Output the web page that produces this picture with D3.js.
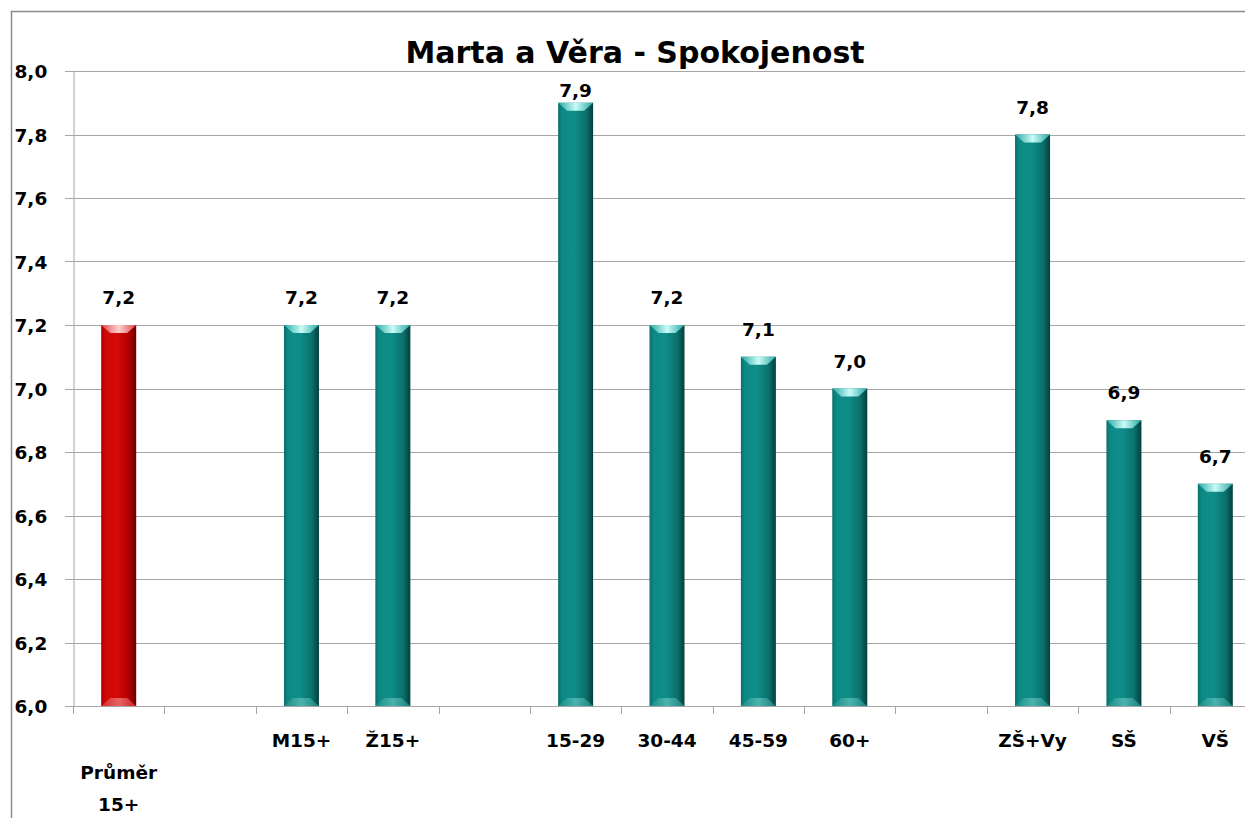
<!DOCTYPE html>
<html><head><meta charset="utf-8">
<script src="https://cdn.jsdelivr.net/npm/d3@7"></script>
<style>body{margin:0;background:#fff}svg{display:block}</style>
</head><body>
<svg id="c" width="1245" height="818"></svg>
<script>
const categories = ["Průměr 15+", "", "M15+", "Ž15+", "", "15-29", "30-44", "45-59", "60+", "", "ZŠ+Vy", "SŠ", "VŠ"];
const values = [7.2, null, 7.2, 7.2, null, 7.9, 7.2, 7.1, 7.0, null, 7.8, 6.9, 6.7];
const highlight = [true, false, false, false, false, false, false, false, false, false, false, false, false];
const yTicks = [6.0, 6.2, 6.4, 6.6, 6.8, 7.0, 7.2, 7.4, 7.6, 7.8, 8.0];
const title = "Marta a Věra - Spokojenost";

const svg = d3.select("#c");
const font = "'DejaVu Sans', Verdana, sans-serif";
const fmt = v => d3.format(".1f")(v).replace(".", ",");

const xb = d3.scaleBand().domain(d3.range(categories.length)).range([73, 1261]);
const y = d3.scaleLinear().domain([6, 8]).range([706, 71]);

// outer border
svg.append("rect").attr("x", 11.5).attr("y", 11.5).attr("width", 1300).attr("height", 900)
  .attr("fill", "none").attr("stroke", "#8c8c8c").attr("stroke-width", 1.5);

// defs
const defs = svg.append("defs");
function grad(id, stops) {
  const g = defs.append("linearGradient").attr("id", id).attr("x1", 0).attr("x2", 1).attr("y1", 0).attr("y2", 0);
  stops.forEach(s => g.append("stop").attr("offset", s[0]).attr("stop-color", s[1]));
}
grad("teal", [[0, "#0b6f6b"], [0.12, "#0d8a85"], [0.45, "#0f8e89"], [0.8, "#0b706c"], [1, "#053e3c"]]);
grad("red", [[0, "#a80000"], [0.12, "#d00808"], [0.45, "#d40a0a"], [0.8, "#b00000"], [1, "#6a0000"]]);
grad("tealcap", [[0, "#2aa9a3"], [0.5, "#c9fbf8"], [1, "#2aa9a3"]]);
grad("redcap", [[0, "#e04848"], [0.5, "#ffd0d0"], [1, "#e04848"]]);
grad("tealbot", [[0, "#1a8c87"], [0.5, "#5bbcb6"], [1, "#1a8c87"]]);
grad("redbot", [[0, "#d63030"], [0.5, "#ee7a7a"], [1, "#d63030"]]);

// gridlines
svg.append("g").selectAll("line").data(yTicks).join("line")
  .attr("x1", 65).attr("x2", 1261).attr("y1", d => Math.round(y(d)) + 0.5).attr("y2", d => Math.round(y(d)) + 0.5)
  .attr("stroke", "#a6a6a6").attr("stroke-width", 1);

// y axis
const yAxis = d3.axisLeft(y).tickValues(yTicks).tickSize(0).tickFormat(fmt).tickPadding(0);
const ya = svg.append("g").attr("transform", "translate(73.5,0)").call(yAxis);
ya.select(".domain").attr("stroke", "#a6a6a6");
ya.selectAll("text").attr("font-family", font).attr("font-weight", "bold").attr("font-size", 18.5).attr("fill", "#000")
  .attr("text-anchor", "start").attr("x", -59).attr("dy", "0.36em");

// x axis ticks
svg.append("g").selectAll("line").data(d3.range(categories.length + 1)).join("line")
  .attr("x1", i => Math.round(73 + i * xb.step()) + 0.5).attr("x2", i => Math.round(73 + i * xb.step()) + 0.5)
  .attr("y1", 706).attr("y2", 714).attr("stroke", "#a6a6a6");

// category labels
const lab = svg.append("g");
categories.forEach((c, i) => {
  if (!c) return;
  const cx = xb(i) + xb.bandwidth() / 2;
  if (c === "Průměr 15+") {
    const t = lab.append("text").attr("x", cx).attr("text-anchor", "middle").attr("font-family", font).attr("font-weight", "bold").attr("font-size", 18.5);
    t.append("tspan").attr("x", cx).attr("y", 779).text("Průměr");
    t.append("tspan").attr("x", cx).attr("y", 811).text("15+");
  } else {
    lab.append("text").attr("x", cx).attr("y", 747).attr("text-anchor", "middle").attr("font-family", font).attr("font-weight", "bold").attr("font-size", 18.5).text(c);
  }
});

// bars
const data = values.map((v, i) => ({ i, v, h: highlight[i] })).filter(d => d.v != null);
const bars = svg.append("g").selectAll("g").data(data).join("g");
const bw = 35;
bars.append("rect")
  .attr("x", d => xb(d.i) + xb.bandwidth() / 2 - bw / 2).attr("width", bw)
  .attr("y", d => y(d.v)).attr("height", d => y(6) - y(d.v))
  .attr("fill", d => d.h ? "url(#red)" : "url(#teal)");
bars.append("path").attr("d", d => {
  const x0 = xb(d.i) + xb.bandwidth() / 2 - bw / 2, t = y(d.v);
  return `M${x0},${t}L${x0 + bw},${t}L${x0 + bw - 9},${t + 8}L${x0 + 9},${t + 8}Z`;
}).attr("fill", d => d.h ? "url(#redcap)" : "url(#tealcap)");
bars.append("path").attr("d", d => {
  const x0 = xb(d.i) + xb.bandwidth() / 2 - bw / 2, b = y(6);
  return `M${x0},${b}L${x0 + bw},${b}L${x0 + bw - 9},${b - 8}L${x0 + 9},${b - 8}Z`;
}).attr("fill", d => d.h ? "url(#redbot)" : "url(#tealbot)").attr("opacity", 0.8);
bars.append("text")
  .attr("x", d => xb(d.i) + xb.bandwidth() / 2).attr("y", d => Math.max(y(d.v) - 21, 97))
  .attr("text-anchor", "middle").attr("font-family", font).attr("font-weight", "bold").attr("font-size", 18.5)
  .text(d => fmt(d.v));

// title
svg.append("text").attr("x", 635).attr("y", 63).attr("text-anchor", "middle")
  .attr("font-family", font).attr("font-weight", "bold").attr("font-size", 30).text(title);
</script>
</body></html>
